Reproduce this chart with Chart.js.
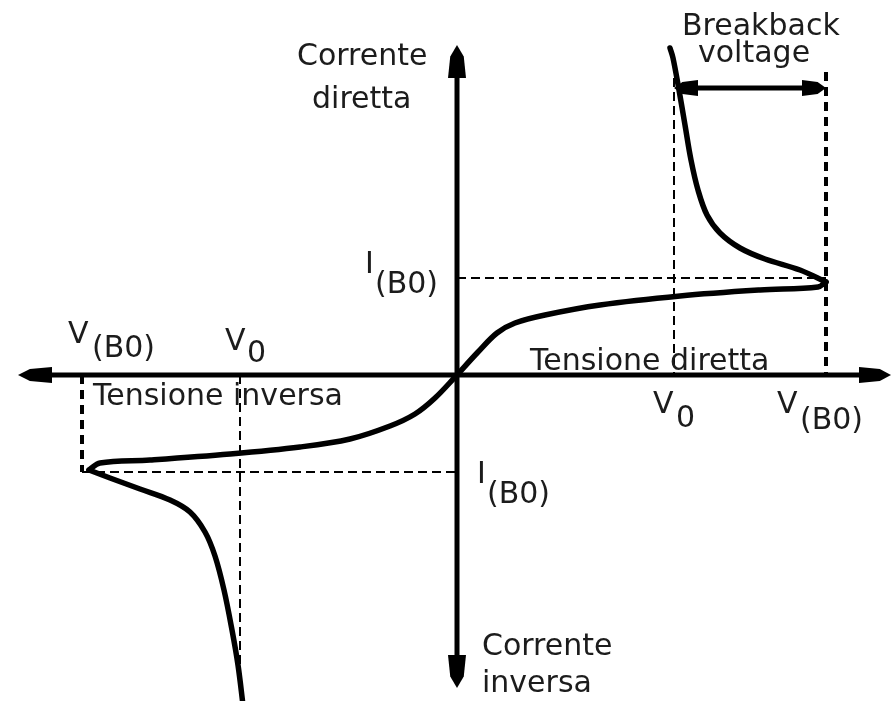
<!DOCTYPE html>
<html>
<head>
<meta charset="utf-8">
<script src="https://cdn.jsdelivr.net/npm/chart.js@4/dist/chart.umd.min.js"></script>
<style>
  html, body { margin: 0; padding: 0; background: #ffffff; }
  #wrap { width: 893px; height: 701px; }
</style>
</head>
<body>
<div id="wrap"><canvas id="c" width="893" height="701"></canvas></div>
<script>
// ---- Data (arbitrary schematic units; origin = axes crossing) ----
// Reverse conduction part (origin -> reverse breakover tip)
const curveReverse = [
  [0,0],[-22,-23],[-42,-39],[-67,-51],[-107,-64],[-157,-72],[-227,-79],[-307,-85],
  [-357,-88],[-368,-95]
];
// Forward conduction part (origin -> forward breakover tip)
const curveForward = [
  [0,0],[21,23],[40,42],[58,52],[88,60],[143,70],[223,79],[303,85],[361,88],[369,93]
];
// Forward negative-resistance branch (after breakover)
const curveForwardBack = [
  [369,93],[343,105],[308,116],[283,127],[263,142],[250,160],[241,185],[234,215],
  [228,250],[222,285],[216,317],[213,327]
];
// Reverse negative-resistance branch (after breakover)
const curveReverseBack = [
  [-368,-95],[-347,-103],[-317,-114],[-287,-125],[-267,-137],[-252,-157],[-242,-181],
  [-233,-215],[-225,-255],[-219,-290],[-214,-330]
];
// Key levels
const vBOpos = 369, vBOneg = -375;
const v0pos = 217, v0neg = -217;
const iBOpos = 97, iBOneg = -97;
// Axis extents (arrow tips)
const xAxisEnds = [-439, 434];
const yAxisEnds = [330, -313];
const breakbackY = 287;
const dashTopBO = 303, dashTopV0 = 297, dashBottomV0 = -315;

// Labels: text and position (left edge, baseline)
const labelTexts = ["Corrente","diretta","Breakback","voltage","Tensione inversa","Tensione diretta","Corrente","inversa"];
const labelX     = [-160,-145,225,241,-364,73,25,25];
const labelY     = [310,267,340,313,-30,5,-280,-317];
// Symbols with subscripts
const subMain    = ["I","V","V","V","V","I"];
const subText    = ["(B0)","(B0)","0","0","(B0)","(B0)"];
const subMainX   = [-92,-389,-232,196,320,20];
const subMainY   = [102,32,25,-38,-38,-108];
const subX       = [-82,-365,-210,219,343,30];
const subY       = [82,18,13,-52,-54,-128];

const toPts = a => a.map(p => ({x:p[0], y:p[1]}));

const lineDs = (data, width, dash, tension) => ({
  data: toPts(data), showLine: true, borderColor: '#000', backgroundColor: '#000',
  borderWidth: width, borderDash: dash || [], pointRadius: 0, tension: tension || 0,
  fill: false, borderCapStyle: 'butt', borderJoinStyle: 'round'
});
const curveDs = data => Object.assign(lineDs(data, 5.5, null, 0.35), { borderCapStyle: 'round' });

const datasets = [
  // axes
  lineDs([[xAxisEnds[0]+10,0],[xAxisEnds[1]-10,0]], 5),
  lineDs([[0,yAxisEnds[0]-10],[0,yAxisEnds[1]+10]], 5),
  // thin dashed guides
  lineDs([[0,iBOpos],[vBOpos,iBOpos]], 2, [9,5]),
  lineDs([[v0pos,dashTopV0],[v0pos,0]], 2, [9,5]),
  lineDs([[vBOneg,iBOneg],[0,iBOneg]], 2, [9,5]),
  lineDs([[v0neg,0],[v0neg,dashBottomV0]], 2, [9,5]),
  // thick dashed guides
  lineDs([[vBOpos,dashTopBO],[vBOpos,0]], 4, [9,6]),
  lineDs([[vBOneg,0],[vBOneg,iBOneg]], 4, [9,6]),
  // breakback dimension line
  lineDs([[v0pos+8,breakbackY],[vBOpos-8,breakbackY]], 5),
  // characteristic
  curveDs(curveReverse),
  curveDs(curveForward),
  curveDs(curveForwardBack),
  curveDs(curveReverseBack)
];

const arrows = [
  {x: xAxisEnds[0], y: 0, dx: -1, dy: 0, len: 34, hw: 8},
  {x: xAxisEnds[1], y: 0, dx: 1, dy: 0, len: 32, hw: 8},
  {x: 0, y: yAxisEnds[0], dx: 0, dy: 1, len: 33, hw: 9},
  {x: 0, y: yAxisEnds[1], dx: 0, dy: -1, len: 33, hw: 9},
  {x: v0pos, y: breakbackY, dx: -1, dy: 0, len: 24, hw: 8},
  {x: vBOpos, y: breakbackY, dx: 1, dy: 0, len: 24, hw: 8}
];

const FONT = '30px "DejaVu Sans"';
const decor = {
  id: 'decor',
  afterDatasetsDraw(chart) {
    const ctx = chart.ctx, sx = chart.scales.x, sy = chart.scales.y;
    ctx.save();
    ctx.fillStyle = '#000';
    arrows.forEach(a => {
      const tx = sx.getPixelForValue(a.x), ty = sy.getPixelForValue(a.y);
      const ux = a.dx, uy = -a.dy; // pixel direction
      const px = -uy, py = ux;
      const bx = tx - ux * a.len, by = ty - uy * a.len;
      const mx = tx - ux * a.len * 0.35, my = ty - uy * a.len * 0.35;
      ctx.beginPath();
      ctx.moveTo(tx, ty);
      ctx.lineTo(mx + px * a.hw * 0.75, my + py * a.hw * 0.75);
      ctx.lineTo(bx + px * a.hw, by + py * a.hw);
      ctx.lineTo(bx - px * a.hw, by - py * a.hw);
      ctx.lineTo(mx - px * a.hw * 0.75, my - py * a.hw * 0.75);
      ctx.closePath();
      ctx.fill();
    });
    ctx.fillStyle = '#1c1c1c';
    ctx.font = FONT;
    ctx.textAlign = 'left';
    ctx.textBaseline = 'alphabetic';
    labelTexts.forEach((t, i) => {
      ctx.fillText(t, sx.getPixelForValue(labelX[i]), sy.getPixelForValue(labelY[i]));
    });
    subMain.forEach((t, i) => {
      ctx.fillText(t, sx.getPixelForValue(subMainX[i]), sy.getPixelForValue(subMainY[i]));
      ctx.fillText(subText[i], sx.getPixelForValue(subX[i]), sy.getPixelForValue(subY[i]));
    });
    ctx.restore();
  }
};

new Chart(document.getElementById('c'), {
  type: 'scatter',
  data: { datasets },
  options: {
    responsive: false,
    animation: false,
    events: [],
    layout: { padding: 0 },
    plugins: { legend: { display: false }, tooltip: { enabled: false } },
    scales: {
      x: { type: 'linear', min: -457, max: 436, display: false },
      y: { type: 'linear', min: -326, max: 375, display: false }
    }
  },
  plugins: [decor]
});
</script>
</body>
</html>
